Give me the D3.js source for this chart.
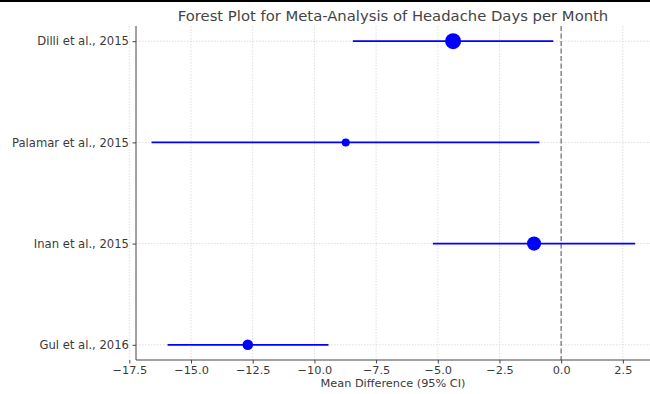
<!DOCTYPE html>
<html>
<head>
<meta charset="utf-8">
<script src="https://cdn.jsdelivr.net/npm/d3@7"></script>
<style>
  body { margin: 0; background: #fff; }
  svg { display: block; font-family: "DejaVu Sans", sans-serif; }
  .axis text { fill: #3a3a3a; font-size: 11.3px; font-family: "DejaVu Sans", sans-serif; }
  .axis.y text { font-size: 11.6px; }
  .axis path, .axis line { stroke: #444; }
</style>
</head>
<body>
<svg id="chart"></svg>
<script>
// study data
var studies = ["Dilli et al., 2015", "Palamar et al., 2015", "Inan et al., 2015", "Gul et al., 2016"];
var meanDiff = [-4.38, -8.73, -1.1, -12.7];
var ciLow = [-8.44, -16.6, -5.2, -15.95];
var ciHigh = [-0.32, -0.88, 3.0, -9.43];
var weights = [32, 8, 25, 14];
var xTicks = [-17.5, -15, -12.5, -10, -7.5, -5, -2.5, 0, 2.5];

var width = 650, height = 394;
var margin = {top: 26, right: 0, bottom: 34, left: 136};

var svg = d3.select("#chart")
    .attr("width", width)
    .attr("height", height);

var rows = studies.map(function (s, i) {
    return {study: s, mean: meanDiff[i], lo: ciLow[i], hi: ciHigh[i], w: weights[i], idx: studies.length - 1 - i};
});

// x scale: zero at ~561px, 2.5 units per ~61.7px
var xScale = d3.scaleLinear()
    .domain([-17.23, 3.6])
    .range([margin.left, width - margin.right]);

// categories at 0..3 with a 5% margin like matplotlib
var yScale = d3.scaleLinear()
    .domain([-0.15, studies.length - 1 + 0.15])
    .range([height - margin.bottom, margin.top]);

var rScale = d3.scaleSqrt()
    .domain([0, d3.max(weights)])
    .range([0, 8]);

// grid
var grid = svg.append("g");
grid.selectAll("line.vg").data(xTicks).enter()
    .append("line")
    .attr("x1", function (d) { return xScale(d); })
    .attr("x2", function (d) { return xScale(d); })
    .attr("y1", margin.top)
    .attr("y2", height - margin.bottom)
    .attr("stroke", "#d6d6d6")
    .attr("stroke-width", 0.8)
    .attr("stroke-dasharray", "1.5,1.5");
grid.selectAll("line.hg").data(rows).enter()
    .append("line")
    .attr("x1", margin.left)
    .attr("x2", width - margin.right)
    .attr("y1", function (d) { return yScale(d.idx); })
    .attr("y2", function (d) { return yScale(d.idx); })
    .attr("stroke", "#d6d6d6")
    .attr("stroke-width", 0.8)
    .attr("stroke-dasharray", "1.5,1.5");

// reference line at zero
svg.append("line")
    .attr("x1", xScale(0))
    .attr("x2", xScale(0))
    .attr("y1", margin.top)
    .attr("y2", height - margin.bottom)
    .attr("stroke", "#888")
    .attr("stroke-width", 1.5)
    .attr("stroke-dasharray", "5,2.5");

// confidence intervals
svg.append("g").selectAll("line").data(rows).enter()
    .append("line")
    .attr("x1", function (d) { return xScale(d.lo); })
    .attr("x2", function (d) { return xScale(d.hi); })
    .attr("y1", function (d) { return yScale(d.idx); })
    .attr("y2", function (d) { return yScale(d.idx); })
    .attr("stroke", "#0000ff")
    .attr("stroke-width", 1.8);

// point estimates
svg.append("g").selectAll("circle").data(rows).enter()
    .append("circle")
    .attr("cx", function (d) { return xScale(d.mean); })
    .attr("cy", function (d) { return yScale(d.idx); })
    .attr("r", function (d) { return rScale(d.w); })
    .attr("fill", "#0000ff");

// axes
var xAxis = d3.axisBottom(xScale)
    .tickValues(xTicks)
    .tickSize(3.5)
    .tickPadding(2.5)
    .tickFormat(function (d) { return d3.format(".1f")(d).replace("-", "\u2212"); });
var gx = svg.append("g")
    .attr("class", "axis x")
    .attr("transform", "translate(0," + (height - margin.bottom) + ")")
    .call(xAxis);
gx.select(".domain").attr("d", "M" + margin.left + ",0H" + (width - margin.right)).attr("stroke-width", 1);

var yAxis = d3.axisLeft(yScale)
    .tickValues(rows.map(function (d) { return d.idx; }))
    .tickSize(3.5)
    .tickPadding(3.5)
    .tickFormat(function (d) { return studies[studies.length - 1 - d]; });
var gy = svg.append("g")
    .attr("class", "axis y")
    .attr("transform", "translate(" + margin.left + ",0)")
    .call(yAxis);
gy.select(".domain").attr("d", "M0," + margin.top + "V" + (height - margin.bottom)).attr("stroke-width", 1);

// title and axis label
svg.append("text")
    .attr("x", (margin.left + width - margin.right) / 2)
    .attr("y", 20.5)
    .attr("text-anchor", "middle")
    .attr("fill", "#444")
    .attr("font-size", "14.8px")
    .text("Forest Plot for Meta-Analysis of Headache Days per Month");

svg.append("text")
    .attr("x", (margin.left + width - margin.right) / 2)
    .attr("y", 387)
    .attr("text-anchor", "middle")
    .attr("fill", "#3a3a3a")
    .attr("font-size", "11.3px")
    .text("Mean Difference (95% CI)");

// border line at top of the picture
svg.append("line")
    .attr("x1", 0).attr("x2", width)
    .attr("y1", 1).attr("y2", 1)
    .attr("stroke", "#000")
    .attr("stroke-width", 2);
</script>
</body>
</html>
